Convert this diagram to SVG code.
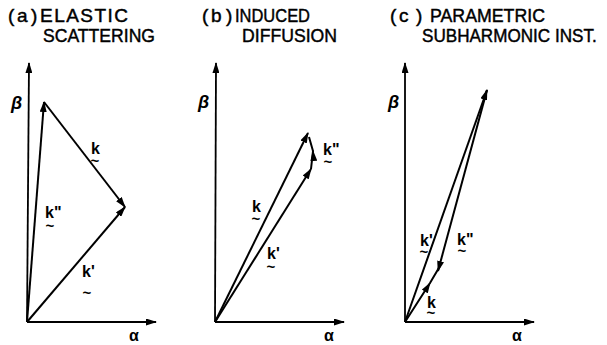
<svg xmlns="http://www.w3.org/2000/svg" width="607" height="345" viewBox="0 0 607 345">
<style>
.title{font-family:"Liberation Sans",Arial,sans-serif;font-size:19px;fill:#000;stroke:#000;stroke-width:0.45}
.lab{font-family:"Liberation Sans",Arial,sans-serif;font-size:16px;font-weight:bold;fill:#000}
.til{font-size:15px}
.greek{font-family:"Liberation Sans",Arial,sans-serif;font-size:18px;font-weight:bold;font-style:italic;fill:#000}
.alpha{font-family:"Liberation Sans",Arial,sans-serif;font-size:16px;font-weight:bold;fill:#000}
.ax{stroke:#000;stroke-width:1.8;fill:none;marker-end:url(#ah)}
.vec{stroke:#000;stroke-width:2;fill:none;marker-end:url(#ah)}
.vmid{stroke:#000;stroke-width:2;fill:none;marker-mid:url(#ah)}
</style>
<defs>
<marker id="ah" viewBox="0 0 11 7" refX="10" refY="3.5" markerWidth="11" markerHeight="7" orient="auto" markerUnits="userSpaceOnUse">
<path d="M0,0 L11,3.5 L0,7 z" fill="#000"/>
</marker>
</defs>
<rect width="607" height="345" fill="#fff"/>

<g id="panel-a">
<text class="title" y="22"><tspan x="8">(</tspan><tspan x="17">a</tspan><tspan x="31">)</tspan><tspan x="40" textLength="88" lengthAdjust="spacing">ELASTIC</tspan></text>
<text class="title" x="43" y="42" textLength="112" lengthAdjust="spacingAndGlyphs">SCATTERING</text>
<text class="greek" x="11" y="109">β</text>
<text class="alpha" x="129" y="341">α</text>
</g>
<g id="panel-b">
<text class="title" y="22"><tspan x="202">(</tspan><tspan x="211">b</tspan><tspan x="226">)</tspan><tspan x="235" textLength="75" lengthAdjust="spacingAndGlyphs">INDUCED</tspan></text>
<text class="title" x="242" y="42" textLength="95" lengthAdjust="spacingAndGlyphs">DIFFUSION</text>
<text class="greek" x="198" y="108">β</text>
<text class="alpha" x="324" y="341">α</text>
</g>
<g id="panel-c">
<text class="title" y="22"><tspan x="390">(</tspan><tspan x="399">c</tspan><tspan x="416">)</tspan><tspan x="430" textLength="115" lengthAdjust="spacingAndGlyphs">PARAMETRIC</tspan></text>
<text class="title" transform="translate(422,42) scale(0.9,1)" x="0" y="0">SUBHARMONIC INST.</text>
<text class="greek" x="388" y="108">β</text>
<text class="alpha" x="512" y="341">α</text>
</g>

<g id="connectors">
<!-- panel a -->
<path class="ax" d="M27,322 L29,63"/>
<path class="ax" d="M27,322 L156,322"/>
<path class="vec" d="M27,322 L44,102"/>
<path class="vec" d="M44,102 L125,207"/>
<path class="vec" d="M27,322 L125,207"/>
<!-- panel b -->
<path class="ax" d="M215,322 L216,63"/>
<path class="ax" d="M215,322 L344,322"/>
<path class="vec" d="M215,322 L308,133"/>
<path class="vec" d="M215,322 L311,169"/>
<path class="vmid" d="M311,169 L313,151 L309,137"/>
<!-- panel c -->
<path class="ax" d="M405,322 L405,63"/>
<path class="ax" d="M405,322 L534,322"/>
<path class="vec" d="M405,322 L487,90"/>
<path class="vec" d="M487,90 L438,271"/>
<path class="vmid" d="M405,322 L430,283 L440,266"/>
</g>

<g id="labels">
<text class="lab" x="91" y="154">k<tspan class="til" x="90.6" y="166">~</tspan></text>
<text class="lab" x="45" y="218">k"<tspan class="til" x="45.6" y="231">~</tspan></text>
<text class="lab" x="82" y="277">k'<tspan class="til" x="82.6" y="298">~</tspan></text>

<text class="lab" x="323" y="155">k"<tspan class="til" x="323.6" y="167">~</tspan></text>
<text class="lab" x="252" y="212">k<tspan class="til" x="251.6" y="224">~</tspan></text>
<text class="lab" x="267" y="259">k'<tspan class="til" x="266.6" y="272">~</tspan></text>

<text class="lab" x="420" y="246">k'<tspan class="til" x="419.6" y="257">~</tspan></text>
<text class="lab" x="457" y="245">k"<tspan class="til" x="457.6" y="256">~</tspan></text>
<text class="lab" x="427" y="308">k<tspan class="til" x="426.6" y="318">~</tspan></text>
</g>
</svg>
